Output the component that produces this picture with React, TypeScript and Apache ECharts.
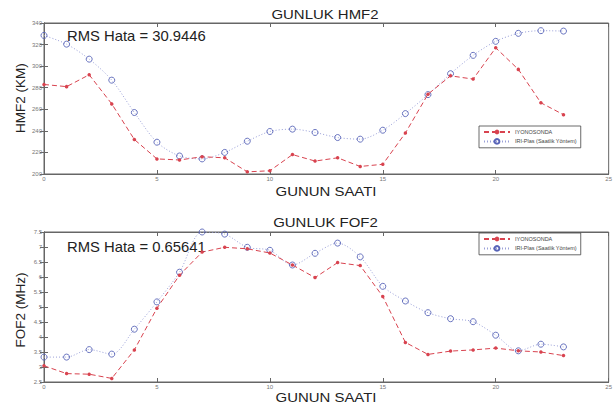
import React, { useEffect, useRef } from "react";
import * as echarts from "echarts";

const hours = Array.from({ length: 24 }, (_, i) => i);
const hmf2Iyono = [283, 281, 292, 265, 232, 214, 213, 216, 215, 202, 203, 218, 212, 215, 207, 209, 238, 274, 291, 288, 317, 297, 266, 255];
const hmf2Iri = [328.5, 320.4, 306.5, 287, 257, 229.5, 216.7, 214, 220, 230.4, 239.4, 241.6, 238.5, 233.8, 232.3, 240.6, 256, 273.6, 293, 310, 323, 330.4, 332.9, 332.5];
const fof2Iyono = [3.04, 2.78, 2.76, 2.62, 3.57, 4.96, 6.06, 6.83, 6.99, 6.94, 6.8, 6.4, 5.98, 6.48, 6.38, 5.35, 3.82, 3.42, 3.53, 3.57, 3.63, 3.54, 3.5, 3.38];
const fof2Iri = [3.33, 3.33, 3.58, 3.43, 4.26, 5.17, 6.16, 7.5, 7.43, 6.99, 6.89, 6.4, 6.79, 7.13, 6.67, 5.69, 5.2, 4.81, 4.61, 4.51, 4.06, 3.54, 3.76, 3.67];
const seriesNames = ["IYONOSONDA", "IRI-Plas (Saatlik Yöntem)"];
const titles = ["GUNLUK HMF2", "GUNLUK FOF2"];
const yNames = ["HMF2 (KM)", "FOF2 (MHz)"];
const xName = "GUNUN SAATI";
const rmsTexts = ["RMS Hata = 30.9446", "RMS Hata = 0.65641"];

const RED = "#d8434f";
const BLUE = "#5864b8";
const FONT = "Liberation Sans, Arial, sans-serif";

export default function App() {
  const ref = useRef<HTMLDivElement>(null);
  useEffect(() => {
    const chart = echarts.init(ref.current!, null, { renderer: "svg" });
    const grids = [
      { left: 44, top: 23, width: 566, height: 151 },
      { left: 44, top: 232, width: 566, height: 150 },
    ];
    const yRanges = [
      { min: 200, max: 340, interval: 20 },
      { min: 2.5, max: 7.5, interval: 0.5 },
    ];
    const tickLabel = { fontSize: 6, color: "#777", fontFamily: FONT };
    const xAxis: any[] = [];
    const yAxis: any[] = [];
    grids.forEach((_, g) => {
      xAxis.push({
        type: "value", gridIndex: g, min: 0, max: 25, interval: 5, position: "bottom",
        axisLine: { lineStyle: { color: "#666", width: 1 } },
        axisTick: { inside: true, length: 4, lineStyle: { color: "#666" } },
        axisLabel: { ...tickLabel, margin: 2 },
        splitLine: { show: false },
      });
      xAxis.push({
        type: "value", gridIndex: g, min: 0, max: 25, interval: 5, position: "top",
        axisLine: { lineStyle: { color: "#666", width: 1 } },
        axisTick: { inside: true, length: 4, lineStyle: { color: "#666" } },
        axisLabel: { show: false }, splitLine: { show: false },
      });
      yAxis.push({
        type: "value", gridIndex: g, ...yRanges[g], position: "left",
        axisLine: { show: true, lineStyle: { color: "#666", width: 1 } },
        axisTick: { show: true, inside: true, length: 4, lineStyle: { color: "#666" } },
        axisLabel: { ...tickLabel, margin: 2 },
        splitLine: { show: false },
      });
      yAxis.push({
        type: "value", gridIndex: g, ...yRanges[g], position: "right",
        axisLine: { show: true, lineStyle: { color: "#666", width: 1 } },
        axisTick: { show: true, inside: true, length: 4, lineStyle: { color: "#666" } },
        axisLabel: { show: false }, splitLine: { show: false },
      });
    });
    const data = [
      [hmf2Iyono, hmf2Iri],
      [fof2Iyono, fof2Iri],
    ];
    const series: any[] = [];
    data.forEach((pair, g) => {
      series.push({
        name: seriesNames[0], type: "line", xAxisIndex: g * 2, yAxisIndex: g * 2,
        data: pair[0].map((v, i) => [hours[i], v]),
        symbol: "circle", symbolSize: 3.5,
        itemStyle: { color: RED },
        lineStyle: { color: RED, width: 1, type: [5, 3] },
        clip: true, z: 3,
      });
      series.push({
        name: seriesNames[1], type: "line", xAxisIndex: g * 2, yAxisIndex: g * 2,
        data: pair[1].map((v, i) => [hours[i], v]),
        symbol: "circle", symbolSize: 6, smooth: 0.3,
        itemStyle: { color: "rgba(255,255,255,0)", borderColor: BLUE, borderWidth: 0.9 },
        lineStyle: { color: "#9aa0d8", width: 1, type: [1, 2] },
        clip: true, z: 2,
      });
    });
    const legendBase = {
      orient: "vertical", left: 479, width: 116, itemWidth: 26, itemHeight: 6, itemGap: 3,
      padding: [3, 4], borderColor: "#444", borderWidth: 0.8, backgroundColor: "#fff",
      textStyle: { fontSize: 5.5, color: "#444", fontFamily: FONT },
      data: seriesNames, selectedMode: false,
    };
    const textEl = (text: string, x: number, y: number, size: number, extra: any = {}, sx = 1.15) => ({
      type: "text", x, y, scaleX: sx,
      style: { text, fontSize: size, fill: "#222", fontFamily: FONT, textAlign: "center", textVerticalAlign: "middle", ...extra },
    });
    chart.setOption({
      animation: false,
      backgroundColor: "#fff",
      grid: grids.map((g) => ({ ...g, show: true, borderColor: "#666", borderWidth: 1, backgroundColor: "#fff" })),
      xAxis, yAxis, series,
      legend: [
        { ...legendBase, top: 126 },
        { ...legendBase, top: 233 },
      ],
      graphic: [
        textEl(titles[0], 325, 14, 13),
        textEl(titles[1], 325.5, 222.5, 13),
        textEl(xName, 326, 191, 13),
        textEl(xName, 326, 397, 13),
        { type: "text", x: 20, y: 98, rotation: Math.PI / 2, style: { text: yNames[0], fontSize: 13.5, fill: "#222", fontFamily: FONT, textAlign: "center", textVerticalAlign: "middle" } },
        { type: "text", x: 20, y: 310, rotation: Math.PI / 2, style: { text: yNames[1], fontSize: 13.5, fill: "#222", fontFamily: FONT, textAlign: "center", textVerticalAlign: "middle" } },
        textEl(rmsTexts[0], 67, 36, 14, { textAlign: "left" }, 1.06),
        textEl(rmsTexts[1], 67, 247, 14, { textAlign: "left" }, 1.06),
      ],
    });
    return () => chart.dispose();
  }, []);
  return <div ref={ref} style={{ position: "fixed", left: 0, top: 0, width: 615, height: 407 }} />;
}
